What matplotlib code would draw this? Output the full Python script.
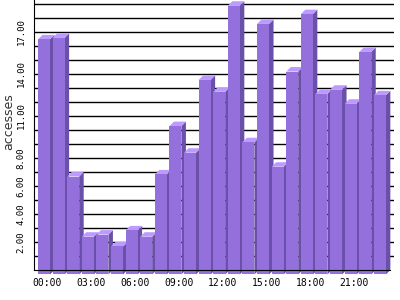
import matplotlib
matplotlib.use("Agg")
import matplotlib.pyplot as plt
from matplotlib.patches import Polygon, Rectangle

hours = ["%02d:00" % h for h in range(24)]
accesses = [16.8, 16.9, 7.0, 2.7, 2.85, 2.0, 3.15, 2.7, 7.15, 10.6, 8.7, 13.9,
            13.05, 19.2, 9.45, 17.9, 7.7, 14.5, 18.6, 12.9, 13.2, 12.2, 15.9, 12.8]
ytick_vals = [2, 4, 6, 8, 11, 14, 17]

front = "#9370DB"
side = "#6A50A8"
top = "#BC9AFF"

fig = plt.figure(figsize=(4, 3), dpi=100)
ax = fig.add_axes([0.085, 0.1, 0.90, 0.9])

w = 0.41     # half width of front face
dx = 0.31    # depth offset in x
dy = 0.32    # depth offset in y

for i, v in enumerate(accesses):
    x0, x1 = i - w, i + w
    ax.add_patch(Polygon([(x1, -dy), (x1 + dx, 0), (x1 + dx, v), (x1, v - dy)],
                         closed=True, facecolor=side, edgecolor="none", clip_on=False, zorder=1))
    ax.add_patch(Polygon([(x0, v - dy), (x1, v - dy), (x1 + dx, v), (x0 + dx, v)],
                         closed=True, facecolor=top, edgecolor="none", clip_on=False, zorder=1))
    ax.add_patch(Rectangle((x0, -dy), 2 * w, v, facecolor=front, edgecolor="none",
                           clip_on=False, zorder=1))

ax.set_xlim(-0.684, 23.97)
ax.set_ylim(0, 19.29)

ax.set_yticks(range(1, 20), minor=True)
ax.set_yticks(ytick_vals)
ax.set_yticklabels(["%.2f" % t for t in ytick_vals], rotation=90, va="center",
                   family="DejaVu Sans Mono", fontsize=6.5)
ax.grid(True, which="both", axis="y", color="black", linewidth=1)
ax.set_axisbelow(True)
ax.tick_params(axis="y", which="both", length=0, pad=6)

ax.set_xticks([i + 0.24 for i in range(0, 24, 3)])
ax.set_xticklabels(hours[::3], family="DejaVu Sans Mono", fontsize=7)
ax.tick_params(axis="x", length=0, pad=6)

ax.set_ylabel("accesses", fontsize=9, color="#333333")
ax.yaxis.set_label_coords(-0.052, 0.55)

for s in ["top", "right"]:
    ax.spines[s].set_visible(False)
ax.spines["bottom"].set_bounds(-0.684, 23.7)
ax.spines["bottom"].set_zorder(3)

fig.savefig("out.png", dpi=100)
